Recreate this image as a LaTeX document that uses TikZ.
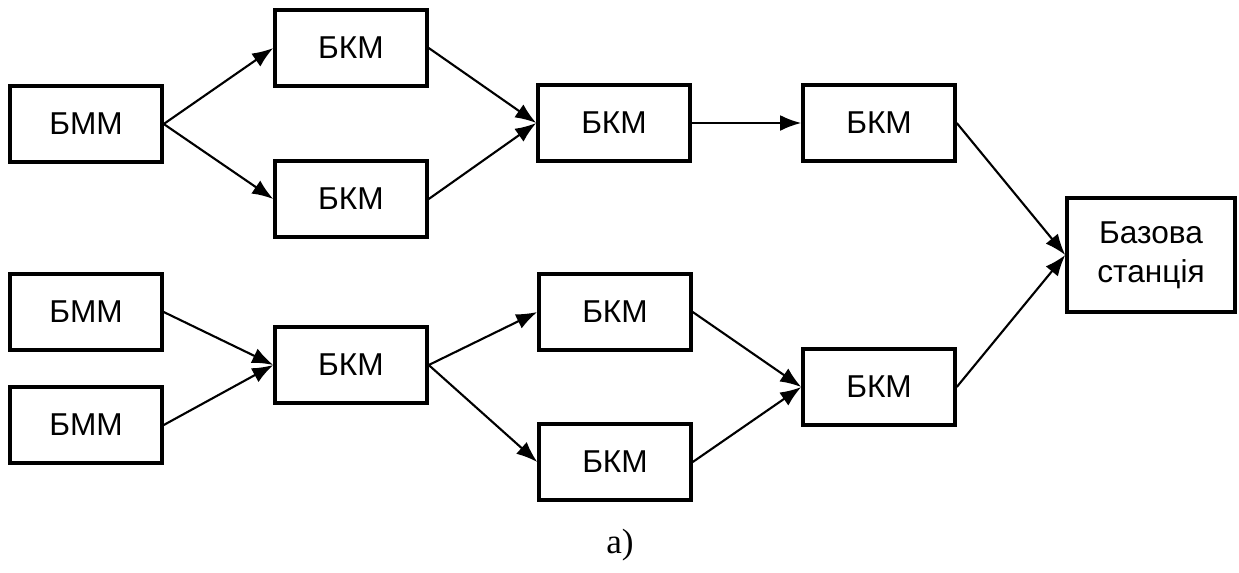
\documentclass[tikz,border=0pt]{standalone}
\usepackage{fontspec}
\setmainfont{Liberation Sans}
\newfontfamily\serifrm{Liberation Serif}
\usetikzlibrary{arrows.meta}
\tikzset{
  blk/.style={draw, line width=2pt, minimum width=3.04cm, minimum height=1.52cm, inner sep=0pt, font=\fontsize{18}{22}\selectfont, align=center},
  conn/.style={line width=1.2pt, -{Latex[length=12pt,width=9pt]}}
}
\begin{document}
\begin{tikzpicture}[x=0.02cm,y=-0.02cm]
\useasboundingbox (0,0) rectangle (1239,572);
\node[blk] (m1) at (86,124) {БММ};
\node[blk] (k1) at (351,48) {БКМ};
\node[blk] (k2) at (351,199) {БКМ};
\node[blk] (k3) at (614,123) {БКМ};
\node[blk] (k4) at (879,123) {БКМ};
\node[blk, minimum width=3.36cm, minimum height=2.28cm] (bs) at (1151,255) {Базова\\станція};
\node[blk] (m2) at (86,312) {БММ};
\node[blk] (m3) at (86,425) {БММ};
\node[blk] (k5) at (351,365) {БКМ};
\node[blk] (k6) at (615,312) {БКМ};
\node[blk] (k7) at (615,462) {БКМ};
\node[blk] (k8) at (879,387) {БКМ};
\node[font=\serifrm\fontsize{20}{24}\selectfont] (lab) at (620,545) {а)};
\draw[conn] (m1.east) -- (k1.west);
\draw[conn] (m1.east) -- (k2.west);
\draw[conn] (k1.east) -- (k3.west);
\draw[conn] (k2.east) -- (k3.west);
\draw[conn] (k3.east) -- (k4.west);
\draw[conn] (k4.east) -- (bs.west);
\draw[conn] (m2.east) -- (k5.west);
\draw[conn] (m3.east) -- (k5.west);
\draw[conn] (k5.east) -- (k6.west);
\draw[conn] (k5.east) -- (k7.west);
\draw[conn] (k6.east) -- (k8.west);
\draw[conn] (k7.east) -- (k8.west);
\draw[conn] (k8.east) -- (bs.west);
\end{tikzpicture}
\end{document}
